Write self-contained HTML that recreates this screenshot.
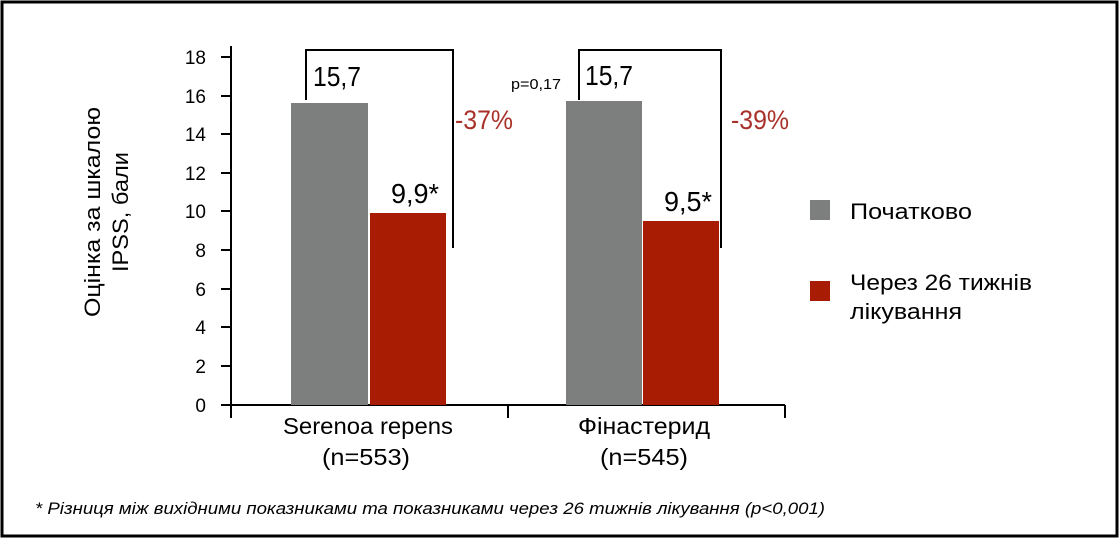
<!DOCTYPE html>
<html><head><meta charset="utf-8"><style>
body{margin:0;background:#fff}
svg{display:block}
text{font-family:"Liberation Sans",sans-serif}
</style></head><body>
<svg width="1120" height="540" viewBox="0 0 1120 540">
<rect x="2" y="2" width="1115" height="534" fill="#fff" stroke="#000" stroke-width="3"/>
<g stroke="#000" stroke-width="2" fill="none">
<line x1="231" y1="46" x2="231" y2="405"/>
<line x1="221" y1="405" x2="785" y2="405"/>
<line x1="231" y1="405" x2="231" y2="418"/>
<line x1="508" y1="405" x2="508" y2="418"/>
<line x1="785" y1="405" x2="785" y2="418"/>
<g>
<line x1="221" y1="57" x2="231" y2="57"/><line x1="221" y1="96" x2="231" y2="96"/>
<line x1="221" y1="134" x2="231" y2="134"/><line x1="221" y1="173" x2="231" y2="173"/>
<line x1="221" y1="211" x2="231" y2="211"/><line x1="221" y1="250" x2="231" y2="250"/>
<line x1="221" y1="289" x2="231" y2="289"/><line x1="221" y1="327" x2="231" y2="327"/>
<line x1="221" y1="366" x2="231" y2="366"/>
</g>
<polyline points="306,100 306,50 453,50 453,248"/>
<polyline points="579,100 579,50 721,50 721,248"/>
</g>
<rect x="291" y="103" width="77" height="302" fill="#7c7f7e"/>
<rect x="370" y="213" width="76" height="192" fill="#a91c04"/>
<rect x="566" y="101" width="76" height="304" fill="#7c7f7e"/>
<rect x="643" y="221" width="76" height="184" fill="#a91c04"/>
<g font-size="19" text-anchor="end" fill="#000">
<text x="206" y="64">18</text><text x="206" y="103">16</text><text x="206" y="141">14</text>
<text x="206" y="180">12</text><text x="206" y="218">10</text><text x="206" y="257">8</text>
<text x="206" y="296">6</text><text x="206" y="334">4</text><text x="206" y="373">2</text>
<text x="206" y="412">0</text>
</g>
<g font-size="28" fill="#000" lengthAdjust="spacingAndGlyphs">
<text x="313" y="86" textLength="48" lengthAdjust="spacingAndGlyphs">15,7</text>
<text x="391" y="203" textLength="48" lengthAdjust="spacingAndGlyphs">9,9*</text>
<text x="585" y="85" textLength="48" lengthAdjust="spacingAndGlyphs">15,7</text>
<text x="664" y="211" textLength="48" lengthAdjust="spacingAndGlyphs">9,5*</text>
</g>
<text x="511" y="89" font-size="15" textLength="50" lengthAdjust="spacingAndGlyphs">p=0,17</text>
<g font-size="27" fill="#a8322a">
<text x="455" y="129" textLength="58" lengthAdjust="spacingAndGlyphs">-37%</text>
<text x="731" y="129" textLength="58" lengthAdjust="spacingAndGlyphs">-39%</text>
</g>
<g font-size="23" text-anchor="middle" fill="#000">
<text x="368" y="434" textLength="170" lengthAdjust="spacingAndGlyphs">Serenoa repens</text>
<text x="366" y="465" textLength="88" lengthAdjust="spacingAndGlyphs">(n=553)</text>
<text x="644" y="434" textLength="132" lengthAdjust="spacingAndGlyphs">Фінастерид</text>
<text x="644" y="465" textLength="88" lengthAdjust="spacingAndGlyphs">(n=545)</text>
</g>
<g font-size="22" text-anchor="middle" transform="rotate(-90)">
<text x="-212" y="100" textLength="210" lengthAdjust="spacingAndGlyphs">Оцінка за шкалою</text>
<text x="-212" y="128" textLength="120" lengthAdjust="spacingAndGlyphs">IPSS, бали</text>
</g>
<rect x="810" y="200" width="20" height="20" fill="#7c7f7e"/>
<rect x="810" y="281" width="20" height="20" fill="#a91c04"/>
<g font-size="22">
<text x="850" y="219" textLength="122" lengthAdjust="spacingAndGlyphs">Початково</text>
<text x="850" y="290" textLength="182" lengthAdjust="spacingAndGlyphs">Через 26 тижнів</text>
<text x="850" y="319" textLength="112" lengthAdjust="spacingAndGlyphs">лікування</text>
</g>
<text x="35" y="514" font-size="17" font-style="italic" textLength="790" lengthAdjust="spacingAndGlyphs">* Різниця між вихідними показниками та показниками через 26 тижнів лікування (p&lt;0,001)</text>
</svg>
</body></html>
